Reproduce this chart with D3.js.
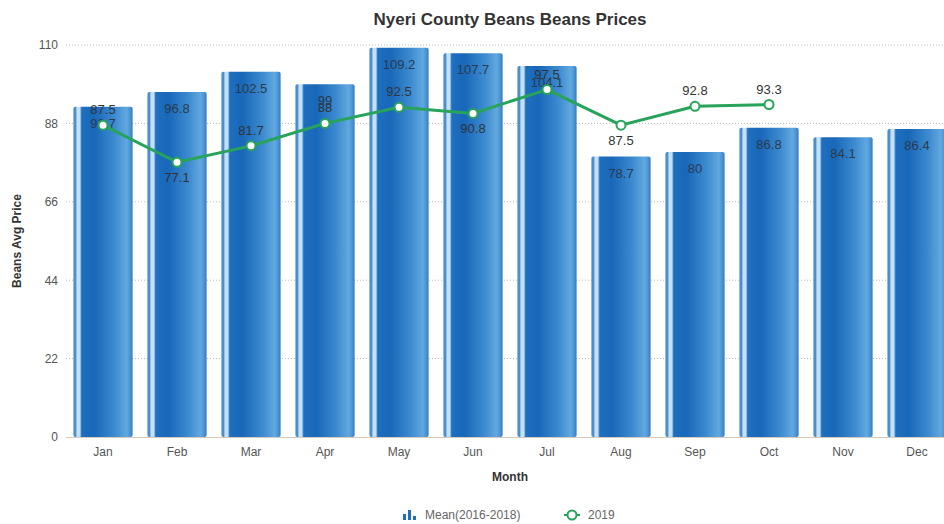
<!DOCTYPE html>
<html>
<head>
<meta charset="utf-8">
<script src="https://cdn.jsdelivr.net/npm/d3@7"></script>
<style>
  html, body { margin: 0; padding: 0; background: #fff; }
  svg { display: block; font-family: "Liberation Sans", Arial, sans-serif; }
</style>
</head>
<body>
<div id="chart"></div>
<script>
// Monthly bean prices, Nyeri County
const months = ["Jan", "Feb", "Mar", "Apr", "May", "Jun", "Jul", "Aug", "Sep", "Oct", "Nov", "Dec"];
const meanPrices = [92.7, 96.8, 102.5, 99, 109.2, 107.7, 104.1, 78.7, 80, 86.8, 84.1, 86.4];
const prices2019 = [87.5, 77.1, 81.7, 88, 92.5, 90.8, 97.5, 87.5, 92.8, 93.3, null, null];
const yTicks = [0, 22, 44, 66, 88, 110];
const seriesNames = ["Mean(2016-2018)", "2019"];

const W = 944, H = 524;
const svg = d3.select("#chart").append("svg").attr("width", W).attr("height", H);

const x = d3.scaleBand().domain(months).range([66, 954]).paddingInner(0.2).paddingOuter(0.1);
const y = d3.scaleLinear().domain([0, 110]).range([437, 45]);

// Cylinder-like horizontal gradient for the bars
const defs = svg.append("defs");
const grad = defs.append("linearGradient").attr("id", "barGrad")
  .attr("x1", "0%").attr("x2", "100%").attr("y1", "0%").attr("y2", "0%");
[
  [0, "#4b8fcf"], [0.04, "#4b8fcf"], [0.06, "#c4e0f6"], [0.11, "#c4e0f6"],
  [0.14, "#1f6fbf"], [0.35, "#1867b9"], [0.7, "#3d8bd0"], [0.9, "#62a8de"],
  [0.96, "#4a93d4"], [1, "#2f78c2"]
].forEach(([o, c]) => grad.append("stop").attr("offset", o).attr("stop-color", c));

// Gridlines
const grid = svg.append("g");
grid.selectAll("line").data(yTicks.filter(t => t > 0)).join("line")
  .attr("x1", 66).attr("x2", W).attr("y1", d => y(d)).attr("y2", d => y(d))
  .attr("stroke", "#b8b8b8").attr("stroke-width", 1).attr("stroke-dasharray", "1,2");

// Y axis
const yAxis = svg.append("g").attr("transform", "translate(62,0)")
  .call(d3.axisLeft(y).tickValues(yTicks).tickSize(0).tickPadding(4));
yAxis.select(".domain").remove();
yAxis.selectAll("text").attr("font-size", 12).attr("fill", "#555")
  .attr("font-family", "Liberation Sans, Arial, sans-serif");

// Bars
svg.append("g").selectAll("rect").data(months).join("rect")
  .attr("x", d => x(d)).attr("width", x.bandwidth())
  .attr("y", (d, i) => y(meanPrices[i]))
  .attr("height", (d, i) => y(0) - y(meanPrices[i]))
  .attr("rx", 2)
  .attr("fill", "url(#barGrad)");

// X axis
const xAxis = svg.append("g").attr("transform", "translate(0,437)")
  .call(d3.axisBottom(x).tickSize(0).tickPadding(10));
xAxis.select(".domain").attr("stroke", "#d8c8c0").attr("d", `M66,0.5H${W}`);
xAxis.selectAll("text").attr("font-size", 12).attr("fill", "#555")
  .attr("font-family", "Liberation Sans, Arial, sans-serif");

// Bar value labels, inside the top of each bar
svg.append("g").selectAll("text").data(months).join("text")
  .attr("x", d => x(d) + x.bandwidth() / 2)
  .attr("y", (d, i) => y(meanPrices[i]) + 21)
  .attr("text-anchor", "middle").attr("font-size", 13).attr("fill", "#2b3a4a")
  .text((d, i) => meanPrices[i]);

// 2019 line
const pts = months.map((m, i) => ({ m, v: prices2019[i], i })).filter(p => p.v != null);
const cx = p => x(p.m) + x.bandwidth() / 2;
svg.append("path").datum(pts)
  .attr("d", d3.line().x(cx).y(p => y(p.v)))
  .attr("fill", "none").attr("stroke", "#27a35a").attr("stroke-width", 3);
svg.append("g").selectAll("circle").data(pts).join("circle")
  .attr("cx", cx).attr("cy", p => y(p.v)).attr("r", 4.5)
  .attr("fill", "#fff").attr("stroke", "#27a35a").attr("stroke-width", 2);

// Line labels: below local minima, above otherwise
const isLow = p => {
  const prev = pts[pts.indexOf(p) - 1], next = pts[pts.indexOf(p) + 1];
  return prev && next && p.v < prev.v && p.v < next.v;
};
svg.append("g").selectAll("text").data(pts).join("text")
  .attr("x", cx)
  .attr("y", p => isLow(p) ? y(p.v) + 20 : y(p.v) - 11)
  .attr("text-anchor", "middle").attr("font-size", 13).attr("fill", "#333")
  .text(p => p.v);

// Title
svg.append("text").attr("x", 510).attr("y", 25).attr("text-anchor", "middle")
  .attr("font-size", 17).attr("font-weight", "bold").attr("fill", "#333")
  .text("Nyeri County Beans Beans Prices");

// Axis titles
svg.append("text").attr("x", 510).attr("y", 481).attr("text-anchor", "middle")
  .attr("font-size", 12).attr("font-weight", "bold").attr("fill", "#333").text("Month");
svg.append("text").attr("transform", "translate(21,241) rotate(-90)").attr("text-anchor", "middle")
  .attr("font-size", 12).attr("font-weight", "bold").attr("fill", "#333").text("Beans Avg Price");

// Legend
const lg = svg.append("g").attr("transform", "translate(0,514)");
const barIcon = lg.append("g").attr("transform", "translate(403,0)");
[[0, 6], [5, 10], [10, 4]].forEach(([dx, h]) =>
  barIcon.append("rect").attr("x", dx).attr("y", 6 - h).attr("width", 3).attr("height", h).attr("fill", "#1f6fbf"));
lg.append("text").attr("x", 425).attr("y", 5).attr("font-size", 12).attr("fill", "#666").text(seriesNames[0]);
lg.append("line").attr("x1", 564).attr("x2", 580).attr("y1", 1).attr("y2", 1).attr("stroke", "#27a35a").attr("stroke-width", 2);
lg.append("circle").attr("cx", 572).attr("cy", 1).attr("r", 4.5).attr("fill", "#fff").attr("stroke", "#27a35a").attr("stroke-width", 2);
lg.append("text").attr("x", 588).attr("y", 5).attr("font-size", 12).attr("fill", "#666").text(seriesNames[1]);
</script>
</body>
</html>
